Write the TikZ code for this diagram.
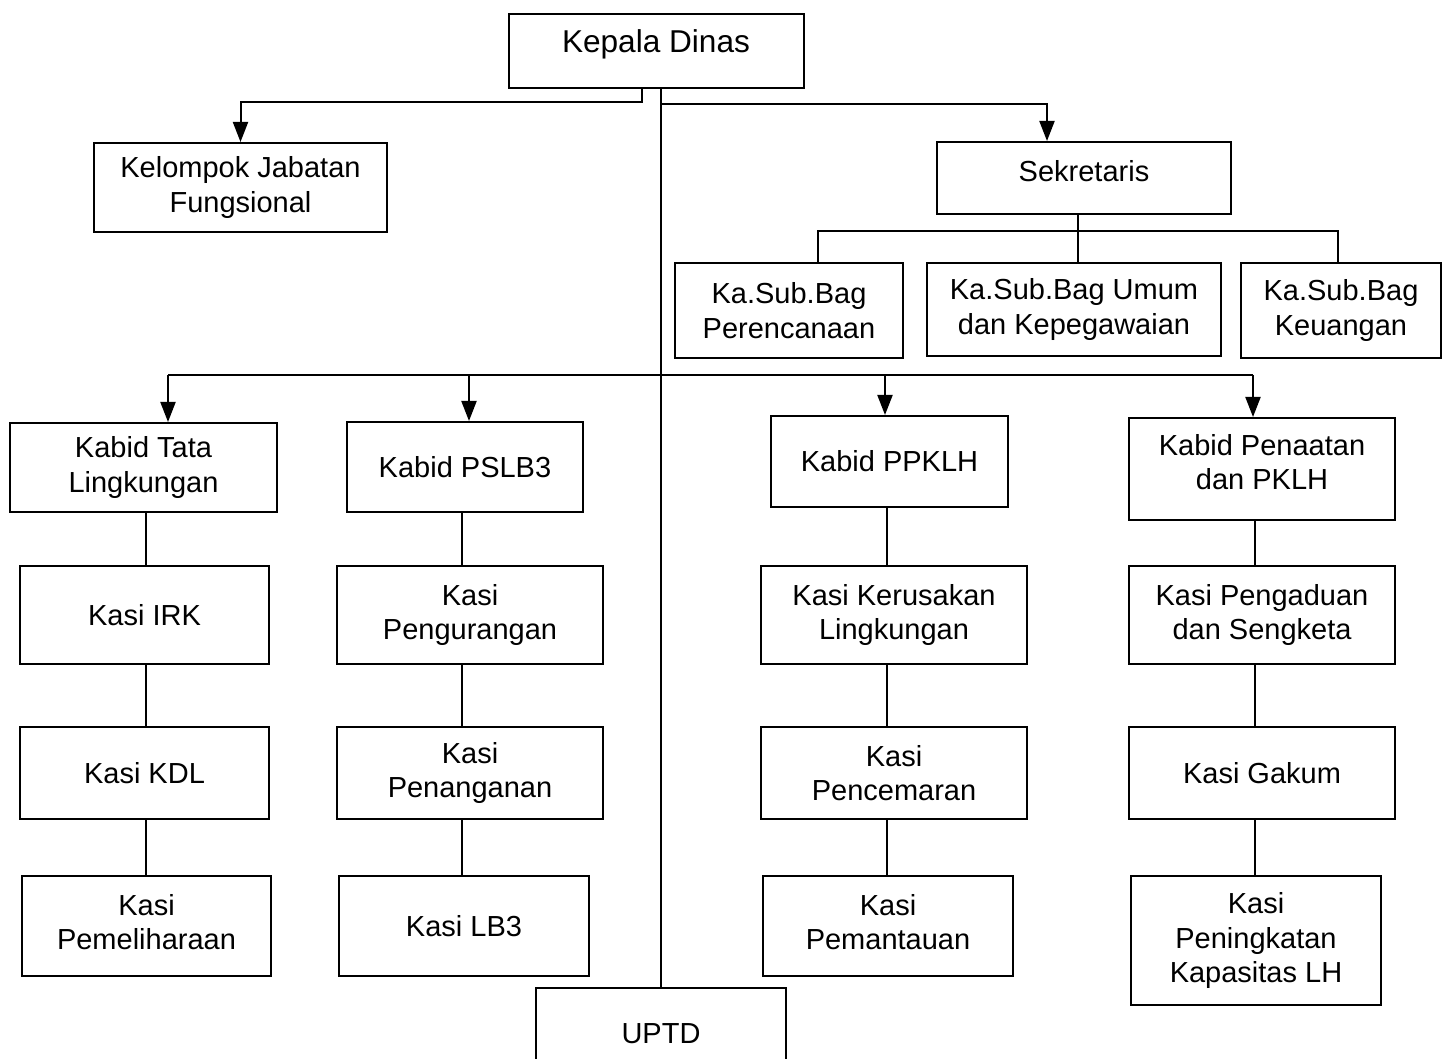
\documentclass[tikz,border=0pt]{standalone}
\usepackage{fontspec}
\setmainfont{Liberation Sans}
\usetikzlibrary{arrows.meta}

\begin{document}
\begin{tikzpicture}[
  x=0.5pt, y=-0.5pt,
  font=\fontsize{14.5}{17.3}\selectfont,
  wh/.style 2 args={minimum width=#1*0.5pt, minimum height=#2*0.5pt},
  lift/.style={text depth=#1},
  post/.style={draw, line width=1pt, fill=white, align=center, inner sep=2pt},
  head/.style={post, font=\fontsize{15.8}{19}\selectfont},
  link/.style={line width=1pt},
  arrowlink/.style={link, -{Triangle[width=7.5pt,length=10pt]}}
]
  \useasboundingbox (0,0) rectangle (1447,1059);

  % top level
  \node[head, wh={295}{74}, lift=10pt] (kadis) at (656,51) {Kepala Dinas};
  \node[post, wh={293}{89}] (kjf) at (240.5,187.5) {Kelompok Jabatan\\Fungsional};
  \node[post, wh={294}{72}, lift=7pt] (sekr) at (1084,178) {Sekretaris};

  % sub bagian
  \node[post, wh={228}{95}] (perenc) at (789,310.5) {Ka.Sub.Bag\\Perencanaan};
  \node[post, wh={294}{93}] (umum) at (1074,309.5) {Ka.Sub.Bag Umum\\dan Kepegawaian};
  \node[post, wh={200}{95}] (keu) at (1341,310.5) {Ka.Sub.Bag\\Keuangan};

  % bidang
  \node[post, wh={267}{89}] (tata) at (143.5,467.5) {Kabid Tata\\Lingkungan};
  \node[post, wh={236}{90}] (pslb3) at (465,467) {Kabid PSLB3};
  \node[post, wh={237}{91}] (ppklh) at (889.5,461.5) {Kabid PPKLH};
  \node[post, wh={266}{102}, lift=7pt] (penaat) at (1262,469) {Kabid Penaatan\\dan PKLH};

  % seksi
  \node[post, wh={249}{98}] (irk) at (144.5,615) {Kasi IRK};
  \node[post, wh={249}{92}] (kdl) at (144.5,773) {Kasi KDL};
  \node[post, wh={249}{100}, lift=4pt] (pemel) at (146.5,926) {Kasi\\Pemeliharaan};
  \node[post, wh={266}{98}] (pengur) at (470,615) {Kasi\\Pengurangan};
  \node[post, wh={266}{92}] (penang) at (470,773) {Kasi\\Penanganan};
  \node[post, wh={250}{100}] (lb3) at (464,926) {Kasi LB3};
  \node[post, wh={266}{98}] (kerus) at (894,615) {Kasi Kerusakan\\Lingkungan};
  \node[post, wh={266}{92}] (pencem) at (894,773) {Kasi\\Pencemaran};
  \node[post, wh={250}{100}, lift=4pt] (pemant) at (888,926) {Kasi\\Pemantauan};
  \node[post, wh={266}{98}] (pengad) at (1262,615) {Kasi Pengaduan\\dan Sengketa};
  \node[post, wh={266}{92}] (gakum) at (1262,773) {Kasi Gakum};
  \node[post, wh={250}{129}] (peningk) at (1256,940.5) {Kasi\\Peningkatan\\Kapasitas LH};

  \node[post, wh={250}{92}] (uptd) at (661,1034) {UPTD};

  % connectors from the head
  \coordinate (kjfturn) at (642,102);
  \coordinate (trunk) at (661,104);
  \coordinate (sekrdrop) at (1047,104);
  \draw[arrowlink] (kadis.south -| kjfturn) -- (kjfturn) -| (kjf.north);
  \draw[link] (kadis.south -| trunk) -- (uptd.north -| trunk);
  \draw[arrowlink] (trunk) -- (sekrdrop) -- (sekrdrop |- sekr.north);

  % secretariat
  \coordinate (sbus) at (1078,231);
  \coordinate (sbl) at (818,231);
  \coordinate (sbr) at (1338,231);
  \draw[link] (sekr.south -| sbus) -- (sbus |- umum.north);
  \draw[link] (sbl |- perenc.north) -- (sbl) -- (sbr) -- (sbr |- keu.north);

  % bus to the bidang
  \coordinate (b1) at (168,375);
  \coordinate (b2) at (469,375);
  \coordinate (b3) at (885,375);
  \coordinate (b4) at (1253,375);
  \draw[link] (b1) -- (b4);
  \foreach \b/\n in {b1/tata, b2/pslb3, b3/ppklh, b4/penaat}
    \draw[arrowlink] (\b) -- (\b |- \n.north);

  % columns
  \coordinate (c1) at (146,0);
  \coordinate (c2) at (462,0);
  \coordinate (c3) at (887,0);
  \coordinate (c4) at (1255,0);
  \foreach \c/\a/\z in {c1/tata/irk, c1/irk/kdl, c1/kdl/pemel,
                        c2/pslb3/pengur, c2/pengur/penang, c2/penang/lb3,
                        c3/ppklh/kerus, c3/kerus/pencem, c3/pencem/pemant,
                        c4/penaat/pengad, c4/pengad/gakum, c4/gakum/peningk}
    \draw[link] (\c |- \a.south) -- (\c |- \z.north);
\end{tikzpicture}
\end{document}
